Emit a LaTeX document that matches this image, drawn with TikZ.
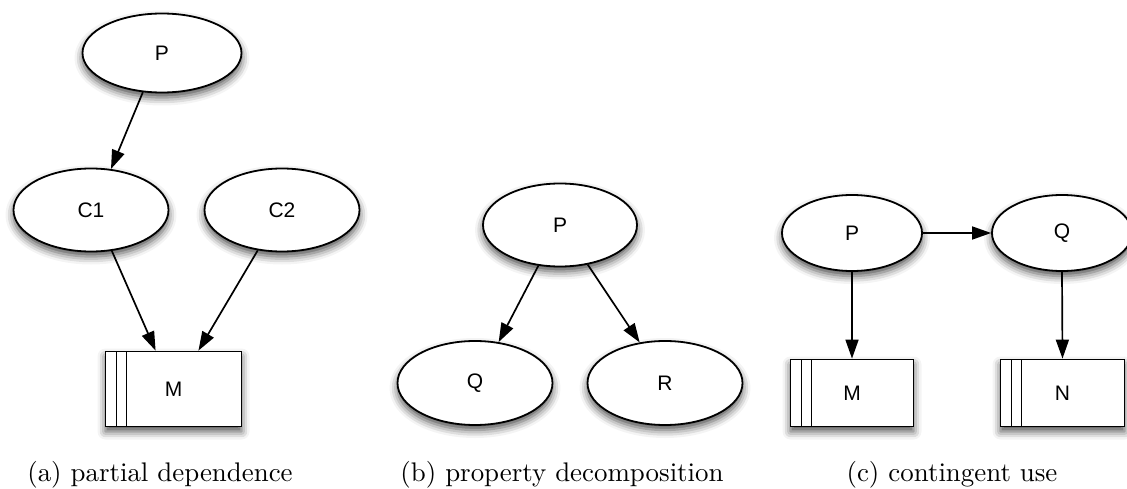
\documentclass[tikz,border=0pt]{standalone}
\usepackage{fontspec}
\newfontfamily\nodefont{Liberation Sans}
\usetikzlibrary{shapes.geometric,arrows.meta,shadows.blur}

\tikzset{
  every picture/.style={x=1pt,y=-1pt},
  shade/.style={blur shadow={shadow xshift=0pt,shadow yshift=-5pt,
      shadow blur radius=8pt,shadow opacity=70}},
  oval/.style={ellipse,draw,line width=1.8pt,fill=white,inner sep=0pt,
      shade,font=\nodefont\fontsize{21}{24}\selectfont},
  store/.style={rectangle,draw,line width=1.8pt,fill=white,inner sep=0pt,
      shade,font=\nodefont\fontsize{21}{24}\selectfont,
      path picture={
        \draw[line width=1.5pt]
          ([xshift=11pt]path picture bounding box.north west) --
          ([xshift=11pt]path picture bounding box.south west)
          ([xshift=21pt]path picture bounding box.north west) --
          ([xshift=21pt]path picture bounding box.south west);}},
  link/.style={line width=1.7pt,-{Triangle[length=19pt,width=13pt]}},
  caption/.style={anchor=base,font=\fontsize{10}{12}\selectfont,
      scale=2.69,transform shape}
}

\begin{document}
\begin{tikzpicture}
\useasboundingbox (0,0) rectangle (1127,489);

% (a) partial dependence
\node[oval,minimum width=159pt,minimum height=79pt] (aP) at (162,53) {P};
\node[oval,minimum width=155pt,minimum height=83pt] (aC1) at (91,210) {C1};
\node[oval,minimum width=155pt,minimum height=83pt] (aC2) at (282,210) {C2};
\node[store,minimum width=136pt,minimum height=75pt] (aM) at (173.5,389) {M};
\draw[link] (aP.244) -- (aC1.64);
\draw[link] (aC1.297) -- (aM.115);
\draw[link] (aC2.239) -- (aM.57);
\node[caption] (capa) at (160,481) {(a) partial dependence};

% (b) property decomposition
\node[oval,minimum width=154pt,minimum height=83pt] (bP) at (560,225) {P};
\node[oval,minimum width=155pt,minimum height=84pt] (bQ) at (475,383) {Q};
\node[oval,minimum width=155pt,minimum height=84pt] (bR) at (665,383) {R};
\draw[link] (bP.242) -- (bQ.60);
\draw[link] (bP.305) -- (bR.122);
\node[caption] (capb) at (562,481) {(b) property decomposition};

% (c) contingent use
\node[oval,minimum width=140pt,minimum height=76pt] (cP) at (852,233) {P};
\node[oval,minimum width=140pt,minimum height=76pt] (cQ) at (1062,233) {Q};
\node[store,minimum width=123pt,minimum height=67pt] (cM) at (852,393) {M};
\node[store,minimum width=124pt,minimum height=67pt] (cN) at (1062.5,393) {N};
\draw[link] (cP.east) -- (cQ.west);
\draw[link] (cP.south) -- (cM.north);
\draw[link] (cQ.south) -- (cN.north);
\node[caption] (capc) at (952,481) {(c) contingent use};
\end{tikzpicture}
\end{document}
